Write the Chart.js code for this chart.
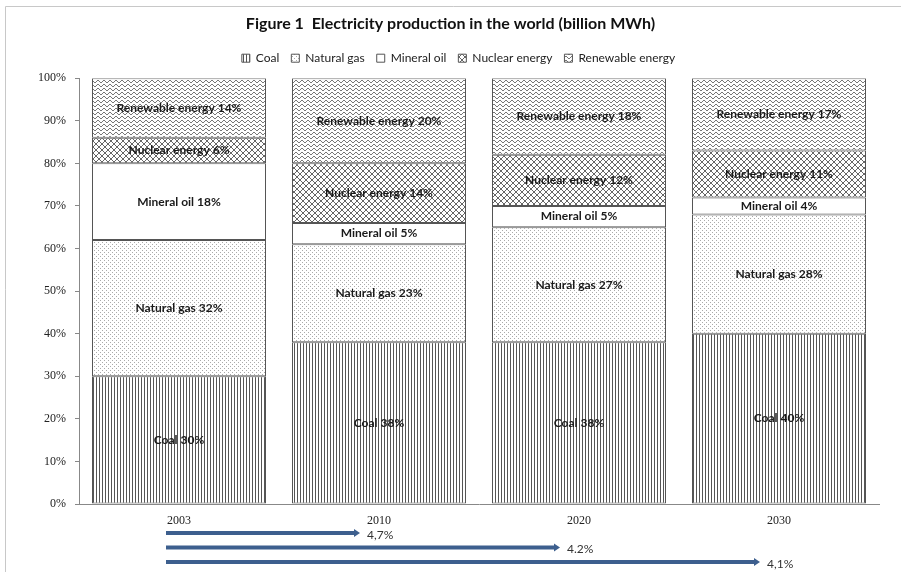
<!DOCTYPE html>
<html lang="en">
<head>
<meta charset="UTF-8">
<title>Electricity production in the world</title>
<style>
    body { margin: 0; padding: 0; background: #fff; }
    canvas { display: block; }
</style>
</head>
<body>
<canvas id="chart" width="901" height="572"></canvas>

<script src="https://cdn.jsdelivr.net/npm/chart.js"></script>
<script>
    const years = ['2003', '2010', '2020', '2030'];
    const coal = [30, 38, 38, 40];
    const naturalGas = [32, 23, 27, 28];
    const mineralOil = [18, 5, 5, 4];
    const nuclear = [6, 14, 12, 11];
    const renewable = [14, 20, 18, 17];
    const yTicks = [0, 10, 20, 30, 40, 50, 60, 70, 80, 90, 100];

    // growth arrows under the axis: from 2003 to the given year
    const growthTargets = ['2010', '2020', '2030'];
    const growthRates = ['4,7%', '4.2%', '4,1%'];

    const sansFont = "Lato, 'Open Sans', sans-serif";
    const serifFont = "'Liberation Serif', 'DejaVu Serif', serif";

    // hatch patterns, built on small tiles
    function makePattern(w, h, draw) {
        const c = document.createElement('canvas');
        c.width = w; c.height = h;
        const g = c.getContext('2d');
        g.fillStyle = '#fff';
        g.fillRect(0, 0, w, h);
        draw(g);
        return g.createPattern(c, 'repeat');
    }
    const ctx = document.getElementById('chart').getContext('2d');

    const coalPattern = makePattern(3, 3, g => {
        g.fillStyle = '#555';
        g.fillRect(0, 0, 1, 3);
    });
    const gasPattern = makePattern(4, 4, g => {
        g.fillStyle = '#aaa';
        g.fillRect(0, 0, 1, 1);
        g.fillRect(2, 2, 1, 1);
    });
    const oilPattern = '#ffffff';
    const nuclearPattern = makePattern(6, 6, g => {
        g.strokeStyle = '#666';
        g.lineWidth = 1;
        g.beginPath();
        g.moveTo(0, 0); g.lineTo(6, 6);
        g.moveTo(6, 0); g.lineTo(0, 6);
        g.stroke();
    });
    const renewablePattern = makePattern(6, 4, g => {
        g.fillStyle = '#777';
        g.fillRect(0, 1, 1, 1);
        g.fillRect(1, 0, 2, 1);
        g.fillRect(3, 1, 1, 1);
        g.fillRect(4, 2, 2, 1);
    });

    const frame = {
        id: 'frame',
        beforeDraw(chart) {
            const c = chart.ctx;
            c.save();
            c.fillStyle = '#fff';
            c.fillRect(0, 0, chart.width, chart.height);
            c.strokeStyle = '#c8c8c8';
            c.lineWidth = 1;
            c.beginPath();
            c.moveTo(5.5, chart.height);
            c.lineTo(5.5, 6.5);
            c.lineTo(chart.width, 6.5);
            c.stroke();
            c.restore();
        }
    };

    // a little extra room under the legend, and nudge it right a bit
    const legendTweak = {
        id: 'legendTweak',
        beforeInit(chart) {
            const fit = chart.legend.fit;
            chart.legend.fit = function () {
                fit.bind(chart.legend)();
                this.height += 4;
            };
        },
        afterLayout(chart) {
            chart.legend.left += 8;
            chart.legend.right += 8;
        }
    };

    const segmentLabels = {
        id: 'segmentLabels',
        afterDatasetsDraw(chart) {
            const c = chart.ctx;
            c.save();
            c.font = 'bold 12px ' + sansFont;
            c.fillStyle = '#1a1a1a';
            c.textAlign = 'center';
            c.textBaseline = 'middle';
            chart.data.datasets.forEach((ds, i) => {
                chart.getDatasetMeta(i).data.forEach((bar, j) => {
                    c.fillText(ds.label + ' ' + ds.data[j] + '%', bar.x, (bar.y + bar.base) / 2);
                });
            });
            c.restore();
        }
    };

    const growthArrows = {
        id: 'growthArrows',
        afterDraw(chart) {
            const x = chart.scales.x;
            const c = chart.ctx;
            const startX = x.getPixelForValue(0) - 13;
            c.save();
            c.font = '12px ' + sansFont;
            c.textBaseline = 'middle';
            growthTargets.forEach((year, i) => {
                const endX = x.getPixelForValue(years.indexOf(year)) - 19;
                const y = chart.chartArea.bottom + 29 + i * 14.5;
                c.strokeStyle = '#3d5f8e';
                c.fillStyle = '#3d5f8e';
                c.lineWidth = 4;
                c.beginPath();
                c.moveTo(startX, y);
                c.lineTo(endX - 5, y);
                c.stroke();
                c.beginPath();
                c.moveTo(endX - 6, y - 4);
                c.lineTo(endX, y);
                c.lineTo(endX - 6, y + 4);
                c.closePath();
                c.fill();
                c.fillStyle = '#333';
                c.fillText(growthRates[i], endX + 7, y + 2);
            });
            c.restore();
        }
    };

    function series(label, data, fill) {
        return {
            label: label,
            data: data,
            backgroundColor: fill,
            borderColor: '#555',
            borderWidth: 1,
            borderSkipped: false,
            barPercentage: 0.87,
            categoryPercentage: 1.0
        };
    }

    new Chart(ctx, {
        type: 'bar',
        data: {
            labels: years,
            datasets: [
                series('Coal', coal, coalPattern),
                series('Natural gas', naturalGas, gasPattern),
                series('Mineral oil', mineralOil, oilPattern),
                series('Nuclear energy', nuclear, nuclearPattern),
                series('Renewable energy', renewable, renewablePattern)
            ]
        },
        options: {
            responsive: false,
            animation: false,
            layout: { padding: { top: 6, right: 22, left: 22, bottom: 0 } },
            plugins: {
                title: {
                    display: true,
                    text: 'Figure 1  Electricity production in the world (billion MWh)',
                    color: '#111',
                    font: { family: sansFont, size: 16, weight: 'bold' },
                    padding: { top: 8, bottom: 7 }
                },
                legend: {
                    display: true,
                    labels: {
                        boxWidth: 8,
                        boxHeight: 8,
                        color: '#222',
                        font: { family: sansFont, size: 12 },
                        padding: 12
                    }
                },
                tooltip: { enabled: false }
            },
            scales: {
                x: {
                    stacked: true,
                    grid: { display: false },
                    border: { display: true, color: '#888' },
                    ticks: {
                        color: '#222',
                        font: { family: serifFont, size: 12 },
                        padding: 2
                    },
                    afterFit(scale) { scale.height = 68; }
                },
                y: {
                    stacked: true,
                    min: 0,
                    max: 100,
                    afterBuildTicks(scale) {
                        scale.ticks = yTicks.map(v => ({ value: v }));
                    },
                    grid: { drawOnChartArea: false, drawTicks: true, tickLength: 4, color: '#888' },
                    border: { display: true, color: '#888' },
                    ticks: {
                        color: '#222',
                        font: { family: serifFont, size: 12 },
                        padding: 9,
                        callback: v => v + '%'
                    },
                    afterFit(scale) { scale.width = 57; }
                }
            }
        },
        plugins: [frame, legendTweak, segmentLabels, growthArrows]
    });
</script>
</body>
</html>
